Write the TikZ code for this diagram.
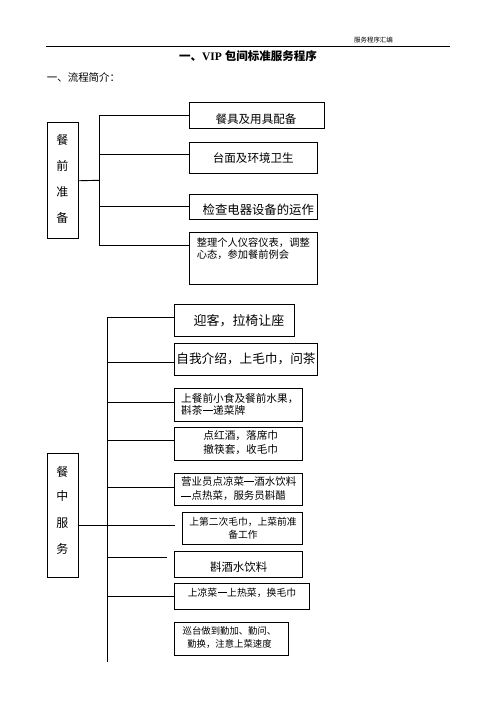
\documentclass[tikz,border=0pt]{standalone}
\usepackage{fontspec}
\setmainfont{Liberation Serif}
\newfontfamily\cjk{Noto Sans CJK SC}
\newcommand\cjdash{\makebox[1em]{\rule[0.33em]{0.96em}{0.06em}}}
\tikzset{
  box/.style={draw, line width=0.9bp, inner sep=0pt, anchor=north west},
  ln/.style={line width=0.9bp},
  fs/.style={inner sep=0pt, font=\cjk\fontsize{#1}{#1}\selectfont},
  fs2/.style 2 args={inner sep=0pt, font=\cjk\fontsize{#1}{#2}\selectfont},
}
\begin{document}
\begin{tikzpicture}[x=1bp,y=-1bp]
\useasboundingbox (0,0) rectangle (496,702);
% header
\node[fs=6.5, anchor=center] (hdr) at (373.5,40) {服务程序汇编};
\coordinate (hl) at (46,46.3);
\coordinate (hr) at (450,46.3);
\draw[ln] (hl) -- (hr);
\node[inner sep=0pt] (title) at (248,56) {\fontsize{11.5bp}{12bp}\selectfont\bfseries{\cjk 一、}VIP {\cjk 包间标准服务程序}};
\node[fs=10.5, anchor=west] (sub) at (46.7,77) {一、流程简介：};

% ---------- section 1 ----------
\node[box, minimum width=30.4bp, minimum height=116bp] (pre) at (47.3,122.3) {};
\node[fs=12] (p1) at (62.3,140) {餐};
\node[fs=12] (p2) at (62.3,166) {前};
\node[fs=12] (p3) at (62.3,191.7) {准};
\node[fs=12] (p4) at (62.3,217.7) {备};

\node[box, minimum width=135bp, minimum height=26bp] (b1) at (189.3,102.3) {};
\node[box, minimum width=128bp, minimum height=31.6bp] (b2) at (189.3,141.7) {};
\node[box, minimum width=128bp, minimum height=25.3bp] (b3) at (189.3,194) {};
\node[box, minimum width=128bp, minimum height=51.7bp] (b4) at (189.3,232.3) {};

\node[fs=11.6] (t1) at (256,119) {餐具及用具配备};
\node[fs=11.6] (t2) at (253.3,158) {台面及环境卫生};
\node[fs=12.4] (t3) at (258.3,209.5) {检查电器设备的运作};
\node[fs2={10.3}{12.5}, align=left, anchor=west] (t4) at (196.7,248.8) {整理个人仪容仪表，调整\\心态，参加餐前例会};

\coordinate (v1a) at (99.3,115.7);
\coordinate (v1b) at (99.3,154.3);
\coordinate (v1c) at (99.3,206.7);
\coordinate (v1d) at (99.3,245);
\coordinate (v1m) at (99.3,180.3);
\draw[ln] (v1a) -- (v1d);
\draw[ln] (pre.east) -- (v1m);
\draw[ln] (v1a) -- (v1a -| b1.west);
\draw[ln] (v1b) -- (v1b -| b2.west);
\draw[ln] (v1c) -- (v1c -| b3.west);
\draw[ln] (v1d) -- (v1d -| b4.west);

% ---------- section 2 ----------
\node[box, minimum width=30.4bp, minimum height=124bp] (mid) at (47.3,453.3) {};
\node[fs=12] (m1) at (62.3,471.7) {餐};
\node[fs=12] (m2) at (62.3,496) {中};
\node[fs=12] (m3) at (62.3,522.7) {服};
\node[fs=12] (m4) at (62.3,549) {务};

\node[box, minimum width=120bp, minimum height=31.7bp] (cA) at (174.3,304.3) {};
\node[box, minimum width=143bp, minimum height=31.7bp] (cB) at (174.3,343.3) {};
\node[box, minimum width=128bp, minimum height=32.7bp] (cC) at (174.3,388.3) {};
\node[box, minimum width=128bp, minimum height=32.7bp] (cD) at (174.3,427.3) {};
\node[box, minimum width=128bp, minimum height=32.3bp] (cE) at (174.3,472.7) {};
\node[box, minimum width=120bp, minimum height=31.7bp] (cF) at (182.3,512.3) {};
\node[box, minimum width=128bp, minimum height=26.3bp] (cG) at (174.3,551) {};
\node[box, minimum width=135bp, minimum height=26bp] (cH) at (174.3,583.3) {};
\node[box, minimum width=113.4bp, minimum height=32.7bp] (cI) at (174.3,622.3) {};

\node[fs=13] (sA) at (239,320.5) {迎客，拉椅让座};
\node[fs=12.7] (sB) at (246,359) {自我介绍，上毛巾，问茶};
\node[fs2={10.7}{12}, align=left, anchor=west] (sC) at (181,404) {上餐前小食及餐前水果，\\斟茶\cjdash 递菜牌};
\node[fs2={10.7}{14.3}, align=center] (sD) at (240.8,442.8) {点红酒，落席巾\\撤筷套，收毛巾};
\node[fs2={10.5}{14.3}, align=left, anchor=west] (sE) at (181,488.8) {营业员点凉菜\cjdash 酒水饮料\\\cjdash 点热菜，服务员斟醋};
\node[fs2={9.8}{13.3}, align=center] (sF) at (243,528.3) {上第二次毛巾，上菜前准\\备工作};
\node[fs=11.5] (sG) at (238.7,567) {斟酒水饮料};
\node[fs=9.9] (sH) at (242,592.7) {上凉菜\cjdash 上热菜，换毛巾};
\node[fs2={9.4}{13.3}, align=center] (sI) at (229.5,637.6) {巡台做到勤加、勤问、\\勤换，注意上菜速度};

\coordinate (v2a) at (107.7,317.3);
\coordinate (v2b) at (107.7,362.3);
\coordinate (v2c) at (107.7,402.3);
\coordinate (v2d) at (107.7,440);
\coordinate (v2e) at (107.7,487.3);
\coordinate (v2g) at (107.7,557.3);
\coordinate (v2h) at (107.7,596);
\coordinate (v2end) at (107.7,661.7);
\coordinate (m0) at (77.7,525);
\coordinate (mF) at (175,525);
\coordinate (gEnd) at (166.7,557.3);
\draw[ln] (v2a) -- (v2end);
\draw[ln] (m0 -| mid.east) -- (mF);
\draw[ln] (v2a) -- (v2a -| cA.west);
\draw[ln] (v2b) -- (v2b -| cB.west);
\draw[ln] (v2c) -- (v2c -| cC.west);
\draw[ln] (v2d) -- (v2d -| cD.west);
\draw[ln] (v2e) -- (v2e -| cE.west);
\draw[ln] (v2g) -- (gEnd);
\draw[ln] (v2h) -- (v2h -| cH.west);
\end{tikzpicture}
\end{document}
